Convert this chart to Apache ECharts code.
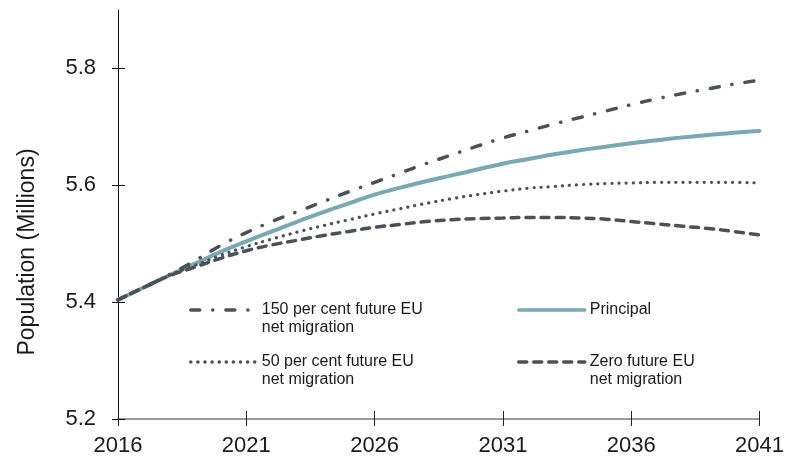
<!DOCTYPE html>
<html>
<head>
<meta charset="utf-8">
<script src="https://cdn.jsdelivr.net/npm/echarts@6/dist/echarts.min.js"></script>
<style>
    html, body { margin: 0; padding: 0; background: #fff; }
    #chart { width: 787px; height: 457px; }
</style>
</head>
<body>
<div id="chart"></div>
<script>
// years on the x axis
const years = ['2016', '2017', '2018', '2019', '2020', '2021', '2022', '2023', '2024', '2025', '2026',
    '2027', '2028', '2029', '2030', '2031', '2032', '2033', '2034', '2035', '2036',
    '2037', '2038', '2039', '2040', '2041'];

// projections, millions
const principal = [5.404, 5.425, 5.446, 5.466, 5.486, 5.504, 5.521, 5.538, 5.554, 5.569, 5.584,
    5.596, 5.607, 5.617, 5.627, 5.637, 5.645, 5.653, 5.660, 5.666, 5.672,
    5.677, 5.682, 5.686, 5.690, 5.693];
const high150 = [5.404, 5.425, 5.447, 5.471, 5.497, 5.519, 5.538, 5.555, 5.572, 5.589, 5.605,
    5.621, 5.637, 5.652, 5.667, 5.681, 5.693, 5.705, 5.716, 5.727, 5.738,
    5.748, 5.757, 5.765, 5.773, 5.780];
const half50 = [5.404, 5.425, 5.446, 5.463, 5.480, 5.495, 5.508, 5.520, 5.531, 5.541, 5.551,
    5.560, 5.569, 5.577, 5.584, 5.590, 5.595, 5.598, 5.601, 5.603, 5.604,
    5.605, 5.605, 5.605, 5.605, 5.604];
const zeroEU = [5.404, 5.425, 5.445, 5.460, 5.475, 5.488, 5.498, 5.506, 5.514, 5.521, 5.528,
    5.533, 5.538, 5.541, 5.543, 5.544, 5.545, 5.545, 5.544, 5.542, 5.538,
    5.534, 5.530, 5.526, 5.521, 5.515];

const yTicks = [5.2, 5.4, 5.6, 5.8];

const grey = '#4a5157';
const teal = '#78a8b1';
const textFont = 'Liberation Sans, Arial, sans-serif';

// 名字
const N150 = '150 per cent future EU\nnet migration';
const NPRI = 'Principal';
const N50 = '50 per cent future EU\nnet migration';
const NZERO = 'Zero future EU\nnet migration';

// legend text: an empty first line keeps the icon level with the first text line
const legendBase = {
    orient: 'horizontal',
    padding: 0,
    itemWidth: 66,
    itemHeight: 14,
    itemStyle: { opacity: 0 },
    lineStyle: { width: 3.5 },
    formatter: name => '\n' + name,
    textStyle: { fontFamily: textFont, fontSize: 16, color: '#1a1a1a', lineHeight: 18 }
};

let myChart = echarts.init(document.getElementById('chart'));

let option = {
    animation: false,
    grid: { left: 118, right: 25, top: 10, bottom: 37, containLabel: false },
    graphic: [{
        type: 'text',
        x: 28,
        y: 252,
        rotation: Math.PI / 2,
        style: {
            text: 'Population (Millions)',
            fontFamily: textFont,
            fontSize: 23,
            fill: '#1a1a1a',
            align: 'center',
            verticalAlign: 'middle'
        }
    }],
    legend: [
        Object.assign({}, legendBase, { data: [N150], left: 189, top: 283 }),
        Object.assign({}, legendBase, { data: [NPRI], left: 517, top: 301, formatter: name => name }),
        Object.assign({}, legendBase, { data: [N50], left: 189, top: 335 }),
        Object.assign({}, legendBase, { data: [NZERO], left: 517, top: 335 })
    ],
    xAxis: [
        {
            type: 'category',
            data: years,
            boundaryGap: false,
            axisLine: { lineStyle: { color: '#7a7a7a', width: 1.5 } },
            axisTick: { interval: 4, length: 7, lineStyle: { color: '#222' } },
            axisLabel: { interval: 4, margin: 16, fontFamily: textFont, fontSize: 22, color: '#1a1a1a' },
            splitLine: { show: false }
        },
        {
            // inner half of the crossing ticks
            type: 'category',
            data: years,
            boundaryGap: false,
            position: 'bottom',
            axisLine: { show: false },
            axisTick: { inside: true, interval: 4, length: 8, lineStyle: { color: '#222' } },
            axisLabel: { show: false },
            splitLine: { show: false }
        }
    ],
    yAxis: [
        {
            type: 'value',
            min: 5.2,
            max: 5.9,
            interval: 0.2,
            axisLine: { show: true, lineStyle: { color: '#111', width: 1 } },
            axisTick: { show: true, length: 6, customValues: yTicks, lineStyle: { color: '#111' } },
            axisLabel: { customValues: yTicks, margin: 22, fontFamily: textFont, fontSize: 22, color: '#1a1a1a',
                formatter: v => v.toFixed(1) },
            splitLine: { show: false }
        },
        {
            type: 'value',
            min: 5.2,
            max: 5.9,
            interval: 0.2,
            position: 'left',
            axisLine: { show: false },
            axisTick: { show: true, inside: true, length: 7, customValues: yTicks, lineStyle: { color: '#111' } },
            axisLabel: { show: false },
            splitLine: { show: false }
        }
    ],
    series: [
        {
            name: NPRI,
            type: 'line',
            data: principal,
            symbol: 'none',
            smooth: true,
            lineStyle: { color: teal, width: 4, cap: 'round' },
            itemStyle: { color: teal }
        },
        {
            name: N150,
            type: 'line',
            data: high150,
            symbol: 'none',
            smooth: true,
            lineStyle: { color: grey, width: 3.5, type: [9, 13, 0.1, 13], cap: 'round' },
            itemStyle: { color: grey }
        },
        {
            name: N50,
            type: 'line',
            data: half50,
            symbol: 'none',
            smooth: true,
            lineStyle: { color: grey, width: 3.2, type: [0.1, 7], cap: 'round' },
            itemStyle: { color: grey }
        },
        {
            name: NZERO,
            type: 'line',
            data: zeroEU,
            symbol: 'none',
            smooth: true,
            lineStyle: { color: grey, width: 3.5, type: [8, 7], cap: 'round' },
            itemStyle: { color: grey }
        }
    ]
};

myChart.setOption(option);
</script>
</body>
</html>
